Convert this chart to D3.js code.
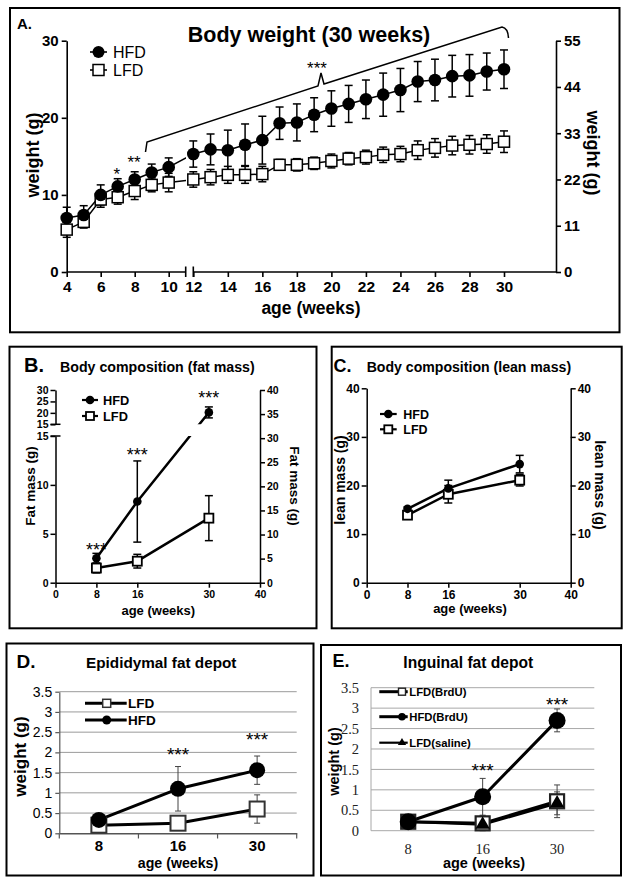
<!DOCTYPE html>
<html><head><meta charset="utf-8">
<script src="https://cdn.jsdelivr.net/npm/d3@7"></script>
<style>body{margin:0;background:#fff}svg{display:block}</style>
</head><body><svg id="c" width="632" height="882"></svg>
<script>
// ---------- DATA ----------
const weeksA = [4,5,6,7,8,9,10,12,13,14,15,16,17,18,19,20,21,22,23,24,25,26,27,28,29,30];
const hfdA    = [7.0,7.4,10.0,11.1,12.0,12.9,13.6,15.3,15.9,15.8,16.5,17.1,19.3,19.4,20.4,21.2,21.8,22.4,23.0,23.6,24.7,24.9,25.4,25.5,26.0,26.3];
const hfdAErr = [1.4,1.2,1.3,1.0,1.0,1.1,1.2,1.7,2.0,2.6,2.7,3.1,2.1,2.4,2.2,2.3,2.4,2.5,2.8,2.8,2.6,2.7,2.7,2.7,2.4,2.5];
const lfdA    = [5.5,6.5,9.4,9.7,10.5,11.3,11.6,12.0,12.3,12.6,12.6,12.7,13.9,13.9,14.1,14.4,14.7,14.9,15.2,15.3,15.8,16.1,16.4,16.5,16.6,16.9];
const lfdAErr = [1.0,0.8,1.0,0.9,1.1,0.9,1.2,1.0,1.0,1.1,1.1,1.0,0.7,0.8,0.8,0.9,0.8,0.9,1.0,1.0,1.2,1.2,1.2,1.2,1.2,1.4];
const ticksAx1 = [4,6,8,10];
const ticksAx2 = [12,14,16,18,20,22,24,26,28,30];
const ticksAyL = [0,10,20,30];
const ticksAyR = [0,11,22,33,44,55];

const weeksBC = [8,16,30];
const hfdFat = [2.5, 8.3, 20.2],  hfdFatErr = [0.5, 4.15, 2.4];
const lfdFat = [1.5, 2.2, 6.6],   lfdFatErr = [0.5, 0.7, 2.3];
const hfdLean = [15.2, 19.4, 24.4], hfdLeanErr = [0.4, 1.7, 1.8];
const lfdLean = [13.9, 18.2, 21.1], lfdLeanErr = [0.4, 1.8, 1.2];
const ticksBCx = [0,8,16,30,40];
const ticksBlow = [0,5,10,15], ticksBup = [15,20,25,30];
const ticksBright = [0,5,10,15,20,25,30,35,40];
const ticksC = [0,10,20,30,40];

const depotCats = ["8","16","30"];
const epiLFD = [0.2, 0.25, 0.6],  epiLFDErr = [0.05, 0.08, 0.35];
const epiHFD = [0.33, 1.1, 1.56], epiHFDErr = [0.08, 0.55, 0.35];
const ingLFD = [0.22, 0.18, 0.72], ingLFDErr = [0.05, 0.18, 0.4];
const ingHFD = [0.22, 0.83, 2.7],  ingHFDErr = [0.05, 0.45, 0.28];
const ingSal = [0.22, 0.15, 0.67], ingSalErr = [0.05, 0.1, 0.28];
const depotTicks = [0,0.5,1,1.5,2,2.5,3,3.5];

// ---------- HELPERS ----------
const F = '"Liberation Sans", Arial, Helvetica, sans-serif';
const FS = '"Liberation Serif", "Times New Roman", serif';
const svg = d3.select("#c");
const defs = svg.append("defs");
const plainFmt = d => String(d);

function text(g, x, y, s, size, opt = {}) {
  const t = g.append("text").attr("x", x).attr("y", y).text(s)
    .attr("font-family", opt.family || F).attr("font-size", size)
    .attr("font-weight", opt.weight || "bold")
    .attr("text-anchor", opt.anchor || "start").attr("fill", opt.fill || "#000");
  return t;
}
function vtext(g, x, y, s, size, rot, opt = {}) {
  return g.append("text").attr("transform", `translate(${x},${y}) rotate(${rot})`)
    .text(s).attr("font-family", opt.family || F).attr("font-size", size)
    .attr("font-weight", opt.weight || "bold").attr("text-anchor", "middle").attr("fill", "#000");
}
function border(x, y, w, h) {
  svg.append("rect").attr("x", x).attr("y", y).attr("width", w).attr("height", h)
    .attr("fill", "none").attr("stroke", "#000").attr("stroke-width", 2);
}
function styleAxis(g, size, weight, sw, family, color) {
  g.attr("font-family", family || F).attr("font-size", size).attr("font-weight", weight);
  g.selectAll("line").attr("stroke", color || "#000").attr("stroke-width", sw);
  g.selectAll("path.domain").attr("stroke", color || "#000").attr("stroke-width", sw);
  g.selectAll("text").attr("fill", "#000");
}
function errBars(g, xs, vals, errs, xf, yf, cap, color, w) {
  xs.forEach((x, i) => {
    const cx = xf(x), yt = yf(vals[i] + errs[i]), yb = yf(vals[i] - errs[i]);
    g.append("line").attr("x1", cx).attr("x2", cx).attr("y1", yt).attr("y2", yb)
      .attr("stroke", color).attr("stroke-width", w);
    [yt, yb].forEach(yy => g.append("line").attr("x1", cx - cap / 2).attr("x2", cx + cap / 2)
      .attr("y1", yy).attr("y2", yy).attr("stroke", color).attr("stroke-width", w));
  });
}
function circles(g, xs, vals, xf, yf, r) {
  xs.forEach((x, i) => g.append("circle").attr("cx", xf(x)).attr("cy", yf(vals[i])).attr("r", r).attr("fill", "#000"));
}
function squares(g, xs, vals, xf, yf, s, sw, stroke) {
  xs.forEach((x, i) => g.append("rect").attr("x", xf(x) - s / 2).attr("y", yf(vals[i]) - s / 2)
    .attr("width", s).attr("height", s).attr("fill", "#fff").attr("stroke", stroke || "#000").attr("stroke-width", sw));
}
function linePath(g, xs, vals, xf, yf, w, clip) {
  const p = g.append("path").attr("d", d3.line().x(d => xf(d[0])).y(d => yf(d[1]))(xs.map((x, i) => [x, vals[i]])))
    .attr("fill", "none").attr("stroke", "#000").attr("stroke-width", w).attr("stroke-linejoin", "round");
  if (clip) p.attr("clip-path", `url(#${clip})`);
  return p;
}
function clipRect(id, x, y, w, h) {
  defs.append("clipPath").attr("id", id).append("rect").attr("x", x).attr("y", y).attr("width", w).attr("height", h);
}

// ================= PANEL A =================
border(10, 8, 609.5, 324.3);
const gA = svg.append("g");
text(gA, 17, 28.5, "A.", 15);
text(gA, 309, 42, "Body weight (30 weeks)", 21.5, {anchor: "middle"});

const xA = d3.scaleLinear().domain([4, 11, 12, 30]).range([66.7, 185.7, 193.3, 504]);
const yA = d3.scaleLinear().domain([0, 30]).range([272, 40.7]);
const yA2 = d3.scaleLinear().domain([0, 55]).range([272, 40.7]);

const axL = gA.append("g").attr("transform", "translate(66.7,0)")
  .call(d3.axisLeft(yA).tickValues(ticksAyL).tickSize(5).tickSizeOuter(0).tickPadding(3));
styleAxis(axL, 15, "bold", 1.6);
const axR = gA.append("g").attr("transform", "translate(556,0)")
  .call(d3.axisRight(yA2).tickValues(ticksAyR).tickSize(5).tickSizeOuter(0).tickPadding(3));
styleAxis(axR, 15, "bold", 1.6);
const axB = gA.append("g").attr("transform", "translate(0,272)")
  .call(d3.axisBottom(xA).tickValues(ticksAx1.concat(ticksAx2)).tickSize(5).tickSizeOuter(0).tickPadding(4));
styleAxis(axB, 15.5, "bold", 1.6);
axB.select("path.domain").remove();
gA.append("line").attr("x1", 66.7).attr("x2", 185.7).attr("y1", 272).attr("y2", 272).attr("stroke", "#000").attr("stroke-width", 1.6);
gA.append("line").attr("x1", 193.3).attr("x2", 556).attr("y1", 272).attr("y2", 272).attr("stroke", "#000").attr("stroke-width", 1.6);
[185.7, 193.3].forEach(x => gA.append("line").attr("x1", x).attr("x2", x).attr("y1", 266.5).attr("y2", 277)
  .attr("stroke", "#000").attr("stroke-width", 1.6));

vtext(gA, 38.5, 155, "weight (g)", 18, -90);
vtext(gA, 586.5, 153, "weight (g)", 18, 90);
text(gA, 311, 313.5, "age (weeks)", 17.5, {anchor: "middle"});

gA.append("line").attr("x1", 90).attr("x2", 107).attr("y1", 52).attr("y2", 52).attr("stroke", "#000").attr("stroke-width", 1.6);
gA.append("circle").attr("cx", 98.5).attr("cy", 52).attr("r", 6).attr("fill", "#000");
text(gA, 113, 57.5, "HFD", 16, {weight: "normal"});
gA.append("line").attr("x1", 90).attr("x2", 107).attr("y1", 70).attr("y2", 70).attr("stroke", "#000").attr("stroke-width", 1.6);
gA.append("rect").attr("x", 93).attr("y", 64.5).attr("width", 11).attr("height", 11).attr("fill", "#fff").attr("stroke", "#000").attr("stroke-width", 1.5);
text(gA, 113, 75.5, "LFD", 16, {weight: "normal"});

clipRect("clipA1", 0, 0, 186, 882);
clipRect("clipA2", 192, 0, 440, 882);
errBars(gA, weeksA, lfdA, lfdAErr, xA, yA, 8, "#000", 1.5);
errBars(gA, weeksA, hfdA, hfdAErr, xA, yA, 8, "#000", 1.5);
["clipA1", "clipA2"].forEach(c => { linePath(gA, weeksA, lfdA, xA, yA, 1.5, c); linePath(gA, weeksA, hfdA, xA, yA, 1.5, c); });
squares(gA, weeksA, lfdA, xA, yA, 11, 1.5);
circles(gA, weeksA, hfdA, xA, yA, 6.3);

gA.append("path").attr("d", "M145.5,152 L147,142 L318,86 L321,73 L324,84 L502,27 Q508,28 508.5,38")
  .attr("fill", "none").attr("stroke", "#000").attr("stroke-width", 1.5);
text(gA, 317, 74, "***", 17, {anchor: "middle", weight: "normal"});
text(gA, 116.7, 179.5, "*", 17, {anchor: "middle", weight: "normal"});
text(gA, 134, 168, "**", 17, {anchor: "middle", weight: "normal"});

// ================= PANEL B =================
border(9.5, 346.7, 307, 281.6);
const gB = svg.append("g");
text(gB, 24, 372.3, "B.", 20);
text(gB, 60, 372.3, "Body composition (fat mass)", 14.2);
const xB = d3.scaleLinear().domain([0, 40]).range([55.5, 260]);
const yBl = d3.scaleLinear().domain([0, 15]).range([582.7, 436]);
const yBu = d3.scaleLinear().domain([15, 30]).range([424.3, 390]);
const yB = v => v <= 15 ? yBl(v) : yBu(v);
const yBr = d3.scaleLinear().domain([0, 40]).range([582.7, 390]);

const bL1 = gB.append("g").attr("transform", "translate(55.5,0)")
  .call(d3.axisLeft(yBl).tickValues(ticksBlow).tickSize(5).tickSizeOuter(0).tickPadding(2));
styleAxis(bL1, 10.5, "bold", 1.5);
const bL2 = gB.append("g").attr("transform", "translate(55.5,0)")
  .call(d3.axisLeft(yBu).tickValues(ticksBup).tickSize(5).tickSizeOuter(0).tickPadding(2));
styleAxis(bL2, 10.5, "bold", 1.5);
[yBl(15), yBu(15)].forEach(y => gB.append("line").attr("x1", 50.5).attr("x2", 60.5).attr("y1", y).attr("y2", y)
  .attr("stroke", "#000").attr("stroke-width", 1.5));
const bR = gB.append("g").attr("transform", "translate(260,0)")
  .call(d3.axisRight(yBr).tickValues(ticksBright).tickSize(5).tickSizeOuter(0).tickPadding(2));
styleAxis(bR, 10.5, "bold", 1.5);
const bX = gB.append("g").attr("transform", "translate(0,582.7)")
  .call(d3.axisBottom(xB).tickValues(ticksBCx).tickSize(5).tickSizeOuter(0).tickPadding(3));
styleAxis(bX, 10.5, "bold", 1.5);

vtext(gB, 35, 486, "Fat mass (g)", 13.5, -90);
vtext(gB, 290, 486, "Fat mass (g)", 13.5, 90);
text(gB, 158.3, 615, "age (weeks)", 13, {anchor: "middle"});

gB.append("line").attr("x1", 82).attr("x2", 98).attr("y1", 400).attr("y2", 400).attr("stroke", "#000").attr("stroke-width", 2.2);
gB.append("circle").attr("cx", 90).attr("cy", 400).attr("r", 4.3).attr("fill", "#000");
text(gB, 103, 404.5, "HFD", 12.8);
gB.append("line").attr("x1", 82).attr("x2", 98).attr("y1", 416).attr("y2", 416).attr("stroke", "#000").attr("stroke-width", 2.2);
gB.append("rect").attr("x", 86).attr("y", 412).attr("width", 8).attr("height", 8).attr("fill", "#fff").attr("stroke", "#000").attr("stroke-width", 1.8);
text(gB, 103, 420.5, "LFD", 12.8);

clipRect("clipB1", 0, 0, 632, 424.3);
clipRect("clipB2", 0, 436, 632, 300);
errBars(gB, weeksBC, lfdFat, lfdFatErr, xB, yB, 8, "#000", 1.5);
errBars(gB, weeksBC, hfdFat, hfdFatErr, xB, yB, 8, "#000", 1.5);
linePath(gB, weeksBC, lfdFat, xB, yB, 2.5);
["clipB1", "clipB2"].forEach(c => linePath(gB, weeksBC, hfdFat, xB, yB, 2.5, c));
squares(gB, weeksBC, lfdFat, xB, yB, 9, 1.8);
circles(gB, weeksBC, hfdFat, xB, yB, 4.3);
text(gB, xB(8), 555.5, "***", 18, {anchor: "middle", weight: "normal"});
text(gB, xB(16), 460.5, "***", 18, {anchor: "middle", weight: "normal"});
text(gB, xB(30), 404, "***", 18, {anchor: "middle", weight: "normal"});

// ================= PANEL C =================
border(331.7, 346.7, 290, 281.6);
const gC = svg.append("g");
text(gC, 333.5, 371.7, "C.", 18);
text(gC, 366.7, 371.7, "Body composition (lean mass)", 14.1);
const xC = d3.scaleLinear().domain([0, 40]).range([366.7, 570.7]);
const yC = d3.scaleLinear().domain([0, 40]).range([582.7, 388.3]);
const cL = gC.append("g").attr("transform", "translate(366.7,0)")
  .call(d3.axisLeft(yC).tickValues(ticksC).tickSize(5).tickSizeOuter(0).tickPadding(2));
styleAxis(cL, 12, "bold", 1.5);
const cR = gC.append("g").attr("transform", "translate(570.7,0)")
  .call(d3.axisRight(yC).tickValues(ticksC).tickSize(5).tickSizeOuter(0).tickPadding(2));
styleAxis(cR, 12, "bold", 1.5);
const cX = gC.append("g").attr("transform", "translate(0,582.7)")
  .call(d3.axisBottom(xC).tickValues(ticksBCx).tickSize(5).tickSizeOuter(0).tickPadding(3));
styleAxis(cX, 12, "bold", 1.5);
vtext(gC, 345, 480, "lean mass (g)", 14, -90);
vtext(gC, 595, 485, "lean mass (g)", 14, 90);
text(gC, 470, 613.3, "age (weeks)", 13, {anchor: "middle"});

gC.append("line").attr("x1", 380).attr("x2", 396.7).attr("y1", 414).attr("y2", 414).attr("stroke", "#000").attr("stroke-width", 2.2);
gC.append("circle").attr("cx", 388.3).attr("cy", 414).attr("r", 4.3).attr("fill", "#000");
text(gC, 403.3, 418.5, "HFD", 12.5);
gC.append("line").attr("x1", 380).attr("x2", 396.7).attr("y1", 429.3).attr("y2", 429.3).attr("stroke", "#000").attr("stroke-width", 2.2);
gC.append("rect").attr("x", 384.3).attr("y", 425.3).attr("width", 8).attr("height", 8).attr("fill", "#fff").attr("stroke", "#000").attr("stroke-width", 1.8);
text(gC, 403.3, 433.8, "LFD", 12.5);

errBars(gC, weeksBC, lfdLean, lfdLeanErr, xC, yC, 8, "#000", 1.5);
errBars(gC, weeksBC, hfdLean, hfdLeanErr, xC, yC, 8, "#000", 1.5);
linePath(gC, weeksBC, lfdLean, xC, yC, 2.5);
linePath(gC, weeksBC, hfdLean, xC, yC, 2.5);
squares(gC, weeksBC, lfdLean, xC, yC, 9, 1.8);
circles(gC, weeksBC, hfdLean, xC, yC, 4.3);

// ================= PANEL D =================
border(6.5, 643.5, 307, 232);
const gD = svg.append("g");
text(gD, 16.5, 668.3, "D.", 19);
text(gD, 86, 668, "Epididymal fat depot", 15.3);
const xD = d3.scaleBand().domain(depotCats).range([59.3, 296.7]);
const yD = d3.scaleLinear().domain([0, 3.5]).range([833.3, 691.7]);
depotTicks.slice(1).forEach(v => gD.append("line").attr("x1", 59.3).attr("x2", 296.7).attr("y1", yD(v)).attr("y2", yD(v))
  .attr("stroke", "#9a9a9a").attr("stroke-width", 1));
const dL = gD.append("g").attr("transform", "translate(59.3,0)")
  .call(d3.axisLeft(yD).tickValues(depotTicks).tickFormat(plainFmt).tickSize(4).tickSizeOuter(0).tickPadding(3));
styleAxis(dL, 14, "normal", 1.2, F, "#555");
const dX = gD.append("g").attr("transform", "translate(0,833.3)")
  .call(d3.axisBottom(xD).tickSize(0).tickSizeOuter(0).tickPadding(7));
styleAxis(dX, 15, "bold", 1.5, F, "#555");
xD.domain().concat(["end"]).forEach((c, i) => {
  const x = 59.3 + i * xD.bandwidth();
  gD.append("line").attr("x1", x).attr("x2", x).attr("y1", 833.3).attr("y2", 838.5).attr("stroke", "#555").attr("stroke-width", 1.2);
});
vtext(gD, 26, 756.5, "weight (g)", 17, -90);
text(gD, 178, 868.3, "age (weeks)", 14.2, {anchor: "middle"});

const cxD = c => xD(c) + xD.bandwidth() / 2;
errBars(gD, depotCats, epiLFD, epiLFDErr, cxD, yD, 6, "#444", 1);
errBars(gD, depotCats, epiHFD, epiHFDErr, cxD, yD, 6, "#444", 1);
linePath(gD, depotCats, epiLFD, cxD, yD, 3);
linePath(gD, depotCats, epiHFD, cxD, yD, 3);
squares(gD, depotCats, epiLFD, cxD, yD, 15, 2, "#333");
circles(gD, depotCats, epiHFD, cxD, yD, 8);
text(gD, cxD("16"), 760.5, "***", 19, {anchor: "middle", weight: "normal"});
text(gD, cxD("30"), 745.5, "***", 19, {anchor: "middle", weight: "normal"});

gD.append("line").attr("x1", 85).attr("x2", 126.7).attr("y1", 703.3).attr("y2", 703.3).attr("stroke", "#000").attr("stroke-width", 3);
gD.append("rect").attr("x", 102.7).attr("y", 699.3).attr("width", 8).attr("height", 8).attr("fill", "#fff").attr("stroke", "#333").attr("stroke-width", 1.5);
text(gD, 128, 708.3, "LFD", 13.5);
gD.append("line").attr("x1", 85).attr("x2", 126.7).attr("y1", 720).attr("y2", 720).attr("stroke", "#000").attr("stroke-width", 3);
gD.append("circle").attr("cx", 106.7).attr("cy", 720).attr("r", 4.5).attr("fill", "#000");
text(gD, 128, 725, "HFD", 13.5);

// ================= PANEL E =================
border(321, 645, 300, 230.5);
const gE = svg.append("g");
text(gE, 332.5, 666.7, "E.", 18);
text(gE, 403.3, 668.3, "Inguinal fat depot", 15.6);
const xE = d3.scaleBand().domain(depotCats).range([371, 594.3]);
const yE = d3.scaleLinear().domain([0, 3.5]).range([830.7, 687.7]);
depotTicks.forEach(v => gE.append("line").attr("x1", 371).attr("x2", 594.3).attr("y1", yE(v)).attr("y2", yE(v))
  .attr("stroke", "#a8a8a8").attr("stroke-width", 1));
gE.append("line").attr("x1", 371).attr("x2", 371).attr("y1", 687.7).attr("y2", 830.7).attr("stroke", "#a8a8a8").attr("stroke-width", 1);
const eL = gE.append("g").attr("transform", "translate(371,0)")
  .call(d3.axisLeft(yE).tickValues(depotTicks).tickFormat(plainFmt).tickSize(0).tickPadding(12));
styleAxis(eL, 14.5, "normal", 1, FS, "#a8a8a8");
eL.select("path.domain").remove();
eL.selectAll("text").attr("fill", "#222");
const eX = gE.append("g").attr("transform", "translate(0,830.7)")
  .call(d3.axisBottom(xE).tickSize(0).tickPadding(13));
styleAxis(eX, 14.5, "normal", 1, FS, "#a8a8a8");
eX.select("path.domain").remove();
eX.selectAll("text").attr("fill", "#222");
vtext(gE, 338.5, 761.5, "weight (g)", 14.5, -90);
text(gE, 484, 868.3, "age (weeks)", 14.5, {anchor: "middle"});

const cxE = c => xE(c) + xE.bandwidth() / 2;
errBars(gE, depotCats, ingLFD, ingLFDErr, cxE, yE, 6, "#444", 1);
errBars(gE, depotCats, ingSal, ingSalErr, cxE, yE, 6, "#444", 1);
errBars(gE, depotCats, ingHFD, ingHFDErr, cxE, yE, 6, "#444", 1);
linePath(gE, depotCats, ingLFD, cxE, yE, 3);
linePath(gE, depotCats, ingSal, cxE, yE, 2.5);
linePath(gE, depotCats, ingHFD, cxE, yE, 3);
squares(gE, depotCats, ingLFD, cxE, yE, 14, 2.2, "#222");
circles(gE, depotCats, ingHFD, cxE, yE, 8.5);
const tri = d3.symbol().type(d3.symbolTriangle).size(90);
depotCats.forEach((c, i) => gE.append("path").attr("d", tri()).attr("transform", `translate(${cxE(c)},${yE(ingSal[i])})`).attr("fill", "#000"));
text(gE, cxE("16"), 777, "***", 19, {anchor: "middle", weight: "normal"});
text(gE, cxE("30"), 710.5, "***", 19, {anchor: "middle", weight: "normal"});

const legE = [["LFD(BrdU)", 691.7, "sq"], ["HFD(BrdU)", 716.7, "ci"], ["LFD(saline)", 742.7, "tr"]];
legE.forEach(([lab, y, m]) => {
  gE.append("line").attr("x1", 379.3).attr("x2", 407.7).attr("y1", y).attr("y2", y).attr("stroke", "#000").attr("stroke-width", m === "tr" ? 2.2 : 3);
  if (m === "sq") gE.append("rect").attr("x", 398.5).attr("y", y - 3.5).attr("width", 7).attr("height", 7).attr("fill", "#fff").attr("stroke", "#222").attr("stroke-width", 1.4);
  if (m === "ci") gE.append("circle").attr("cx", 402).attr("cy", y).attr("r", 3.8).attr("fill", "#000");
  if (m === "tr") gE.append("path").attr("d", d3.symbol().type(d3.symbolTriangle).size(30)()).attr("transform", `translate(402,${y})`).attr("fill", "#000");
  text(gE, 409.3, y + 4.2, lab, 11.3);
});
</script>
</body></html>
